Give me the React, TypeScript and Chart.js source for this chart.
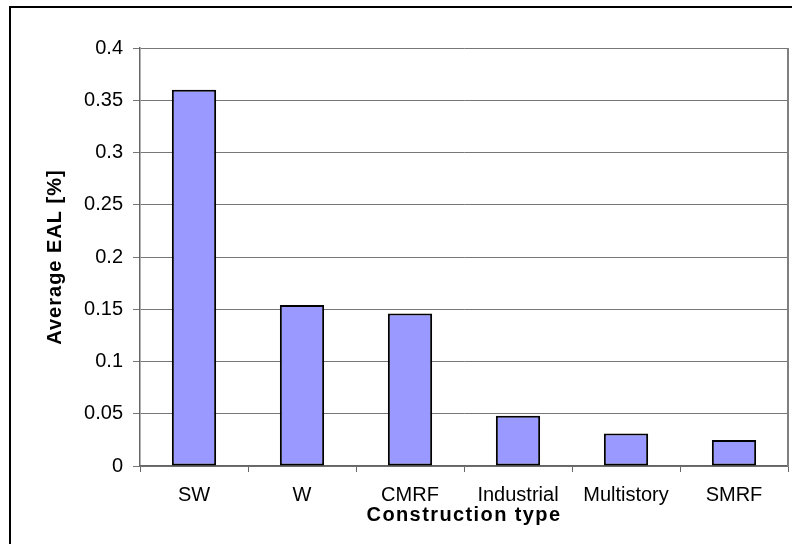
import React, { useEffect, useRef } from "react";
import { Chart, registerables } from "chart.js";

Chart.register(...registerables);

const categories = ["SW", "W", "CMRF", "Industrial", "Multistory", "SMRF"];
const averageEal = [0.36, 0.154, 0.146, 0.048, 0.031, 0.025];
const yTickLabels = ["0", "0.05", "0.1", "0.15", "0.2", "0.25", "0.3", "0.35", "0.4"];
const xTitle = "Construction type";
const yTitle = "Average EAL [%]";

const FONT = "'Liberation Sans', Arial, sans-serif";

function patchTitle(scale: any, spacing: string) {
  if (scale.__patched) return;
  const orig = scale.drawTitle.bind(scale);
  scale.drawTitle = (...args: any[]) => {
    const c: any = scale.ctx;
    const prev = c.letterSpacing;
    c.letterSpacing = spacing;
    orig(...args);
    c.letterSpacing = prev || "0px";
  };
  scale.__patched = true;
}

const framePlugin = {
  id: "frame",
  beforeDatasetsDraw(chart: any) {
    const { ctx, chartArea } = chart;
    ctx.save();
    ctx.strokeStyle = "#808080";
    ctx.lineWidth = 2;
    ctx.beginPath();
    ctx.moveTo(chartArea.right, chartArea.top);
    ctx.lineTo(chartArea.right, chartArea.bottom);
    ctx.stroke();
    ctx.restore();
  },
  afterDraw(chart: any) {
    const { ctx } = chart;
    ctx.save();
    ctx.strokeStyle = "#000000";
    ctx.lineWidth = 2;
    ctx.strokeRect(10, 7, 900, 700);
    ctx.restore();
  },
};

export default function App() {
  const ref = useRef<HTMLCanvasElement | null>(null);

  useEffect(() => {
    if (!ref.current) return;
    const chart = new Chart(ref.current, {
      type: "bar",
      data: {
        labels: categories,
        datasets: [
          {
            data: averageEal,
            backgroundColor: "#9999FF",
            borderColor: "#000000",
            borderWidth: 2,
            borderSkipped: false,
            barPercentage: 0.41,
            categoryPercentage: 1,
          },
        ],
      },
      options: {
        animation: false,
        responsive: false,
        devicePixelRatio: 1,
        layout: { padding: { top: 48, right: 4, bottom: 0, left: 0 } },
        plugins: {
          legend: { display: false },
          tooltip: { enabled: false },
        },
        scales: {
          x: {
            grid: {
              display: true,
              drawOnChartArea: false,
              drawTicks: true,
              tickLength: 6,
              color: "#666666",
              offset: true,
            },
            border: { display: true, color: "#666666", width: 1.5 },
            ticks: {
              color: "#000000",
              font: { family: FONT, size: 20 },
              padding: 11,
              maxRotation: 0,
              autoSkip: false,
            },
            title: {
              display: true,
              text: xTitle,
              color: "#000000",
              font: { family: FONT, size: 20, weight: "bold" },
              padding: { top: 0, bottom: 17 },
            },
            afterFit(scale: any) {
              scale.height = 78;
              patchTitle(scale, "1.4px");
            },
          },
          y: {
            min: 0,
            max: 0.4,
            grid: {
              color: "#777777",
              lineWidth: 1,
              drawTicks: true,
              tickLength: 7,
            },
            border: { display: true, color: "#666666", width: 1.5 },
            ticks: {
              stepSize: 0.05,
              color: "#000000",
              font: { family: FONT, size: 20 },
              padding: 10,
              callback: (_v: any, i: number) => yTickLabels[i],
            },
            title: {
              display: true,
              text: yTitle,
              color: "#000000",
              font: { family: FONT, size: 20, weight: "bold" },
              padding: { top: 43, bottom: 0 },
            },
            afterFit(scale: any) {
              scale.width = 140;
              patchTitle(scale, "1px");
            },
          },
        },
      },
      plugins: [framePlugin],
    } as any);
    return () => chart.destroy();
  }, []);

  return (
    <div style={{ position: "fixed", left: 0, top: 0, width: 792, height: 544, background: "#ffffff" }}>
      <canvas ref={ref} width={792} height={544} />
    </div>
  );
}
